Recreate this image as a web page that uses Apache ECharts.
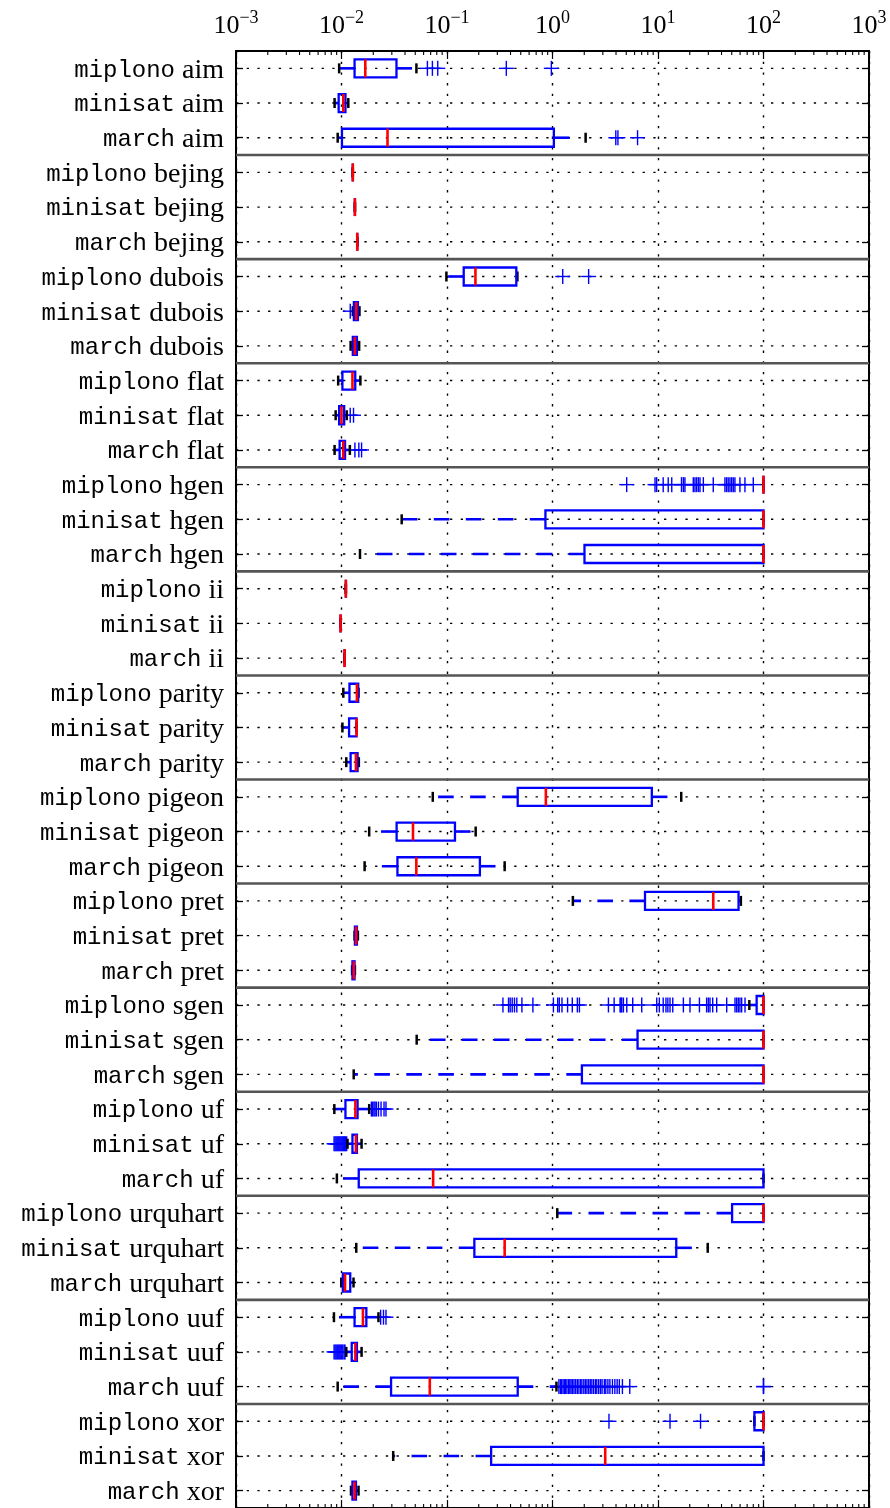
<!DOCTYPE html>
<html><head><meta charset="utf-8">
<script src="https://cdn.jsdelivr.net/npm/echarts@6/dist/echarts.min.js"></script>
<style>html,body{margin:0;padding:0;background:#fff}#c{width:890px;height:1508px}</style>
</head><body><div id="c"></div>
<script>
// ---------------- data ----------------
const solvers = ['miplono', 'minisat', 'march'];
const benchmarks = ['aim','bejing','dubois','flat','hgen','ii','parity','pigeon','pret','sgen','uf','urquhart','uuf','xor'];
const categories = [];
benchmarks.forEach(b => solvers.forEach(s => categories.push(s + ' ' + b)));

// per row: lower whisker, q1, median, q3, upper whisker (seconds)
const whiskerLow = [
  0.0095, 0.0086, 0.0092,   0.0128, 0.0134, 0.0141,   0.0987, 0.0128, 0.0122,
  0.0093, 0.0088, 0.0086,   100, 0.0372, 0.01497,     0.0110, 0.0098, 0.0107,
  0.0104, 0.0102, 0.0111,   0.0733, 0.0183, 0.01656,  1.56, 0.0133, 0.0126,
  73.4, 0.0516, 0.01305,    0.00855, 0.0114, 0.00904, 1.11, 0.0138, 0.00995,
  0.00848, 0.0111, 0.0092,  82, 0.0309, 0.0123
];
const q1 = [
  0.0133, 0.0094, 0.0101,   0.0128, 0.0134, 0.0141,   0.144, 0.0131, 0.0128,
  0.0102, 0.0095, 0.0096,   100, 0.857, 2.01,         0.0110, 0.0098, 0.0107,
  0.0119, 0.0118, 0.0122,   0.468, 0.0333, 0.0339,    7.53, 0.0134, 0.0127,
  86.1, 6.4, 1.90,          0.0109, 0.0127, 0.01457,  50.4, 0.1817, 0.0103,
  0.0133, 0.0125, 0.0295,   82, 0.262, 0.0127
];
const median = [
  0.0168, 0.0104, 0.0273,   0.0128, 0.0134, 0.0141,   0.186, 0.0138, 0.0134,
  0.0127, 0.0100, 0.0104,   100, 100, 100,            0.0110, 0.0098, 0.0107,
  0.0140, 0.0139, 0.0137,   0.865, 0.0476, 0.0512,    33.4, 0.01377, 0.01308,
  100, 100, 100,            0.01354, 0.0137, 0.0739,  100, 0.352, 0.0108,
  0.01597, 0.01354, 0.0687, 100, 3.16, 0.01329
];
const q3 = [
  0.0332, 0.0109, 1.03,     0.0128, 0.0134, 0.0141,   0.454, 0.0143, 0.0140,
  0.0135, 0.0106, 0.0108,   100, 100, 100,            0.0110, 0.0098, 0.0107,
  0.0144, 0.0139, 0.0142,   8.74, 0.119, 0.205,       58.0, 0.0140, 0.0133,
  100, 100, 100,            0.0142, 0.0140, 100,      100, 14.9, 0.0121,
  0.0172, 0.0140, 0.468,    100, 100, 0.0137
];
const whiskerHigh = [
  0.0513, 0.0116, 2.06,     0.0128, 0.0134, 0.0141,   0.465, 0.0148, 0.0147,
  0.0151, 0.0112, 0.0120,   100, 100, 100,            0.0110, 0.0098, 0.0107,
  0.0145, 0.0139, 0.0146,   16.6, 0.187, 0.352,       61.0, 0.0143, 0.0134,
  100, 100, 100,            0.0183, 0.0155, 100,      100, 29.6, 0.0130,
  0.0224, 0.0155, 1.09,     100, 100, 0.0145
];
// outliers per row
const outliers = [
  [0.0652, 0.0727, 0.0817, 0.365, 0.975], [], [3.98, 4.17, 6.4],
  [], [], [],
  [1.25, 2.2], [0.0121], [],
  [], [0.0121, 0.0130], [0.0134, 0.0146, 0.0155],
  [5.05, 9.37, 9.71, 11.2, 12.5, 13.5, 16.7, 17.4, 18.0, 21.6, 22.4, 23.2, 24.1, 25.0, 26.9, 33.4,
   43.1, 44.7, 46.3, 48.1, 49.9, 51.7, 53.6, 59.8, 66.7, 80.0], [], [],
  [], [], [],
  [], [], [],
  [], [], [],
  [], [], [],
  [0.339, 0.383, 0.397, 0.415, 0.436, 0.459, 0.513, 0.652, 1.02, 1.12, 1.16, 1.23, 1.39, 1.54, 1.72, 1.80,
   3.39, 3.84, 4.37, 4.45, 4.53, 4.70, 5.06, 5.76, 7.01, 9.73, 10.3, 11.2, 11.9, 12.4, 13.0, 13.8, 17.4, 20.1,
   24.7, 28.9, 30.0, 31.1, 33.0, 36.0, 44.8, 53.7, 55.7, 57.7, 59.8, 62.1, 66.8], [], [],
  [0.0192, 0.0197, 0.0203, 0.0208, 0.0214, 0.0224, 0.0237, 0.0253, 0.0264],
  [0.0085, 0.0087, 0.0089, 0.0091, 0.0093, 0.0095, 0.0097, 0.0099, 0.0101, 0.0103, 0.0105, 0.0107, 0.0109, 0.0112], [],
  [], [], [],
  [0.0235, 0.0250, 0.0264],
  [0.0085, 0.0087, 0.0089, 0.0091, 0.0093, 0.0095, 0.0097, 0.0099, 0.0101, 0.0103, 0.0106, 0.0108],
  [1.15, 1.19, 1.22, 1.26, 1.3, 1.33, 1.37, 1.42, 1.46, 1.5, 1.55, 1.6, 1.66, 1.72, 1.78, 1.85, 1.9, 1.98,
   2.05, 2.12, 2.2, 2.28, 2.36, 2.45, 2.55, 2.63, 2.74, 2.85, 2.95, 3.1, 3.2, 3.35, 3.5, 3.7, 3.9, 4.1,
   4.3, 4.6, 5.4, 100, 100],
  [3.43, 13.0, 25.3], [], []
];
const groupStartRows = [3, 6, 9, 12, 15, 18, 21, 24, 27, 30, 33, 36, 39];
const tickExponents = ['−3', '−2', '−1', '0', '1', '2', '3'];
const minorTickValues = [];
[0.001, 0.01, 0.1, 1, 10, 100].forEach(d => { for (let k = 2; k <= 9; k++) minorTickValues.push(+(d * k).toPrecision(3)); });

// ---------------- chart ----------------
const BLUE = '#0000ff', RED = '#ff0000';
const chart = echarts.init(document.getElementById('c'), null, { renderer: 'canvas' });

const boxData = categories.map((c, i) => [i, whiskerLow[i], q1[i], median[i], q3[i], whiskerHigh[i]]);
const outlierData = [];
outliers.forEach((arr, i) => arr.forEach(v => outlierData.push([v, i])));

function bandH(params) { return params.coordSys.height / categories.length; }

const option = {
  animation: false,
  backgroundColor: '#fff',
  grid: { left: 236, top: 51, width: 633, height: 1458.6, containLabel: false },
  xAxis: [
    {
      type: 'log', logBase: 10, min: 0.001, max: 1000, splitNumber: 6, position: 'top',
      axisLine: { show: true, onZero: false, lineStyle: { color: '#000', width: 2 } },
      axisTick: { show: true, inside: true, length: 8, lineStyle: { color: '#000', width: 1.2 } },
      minorTick: { show: false },
      splitLine: { show: true, lineStyle: { color: '#000', width: 1.4, type: [2.3, 8.4] } },
      axisLabel: {
        margin: 12,
        formatter: v => '{b|10}{s|' + tickExponents[Math.round(Math.log10(v)) + 3] + '}',
        rich: {
          b: { fontFamily: 'Liberation Serif', fontSize: 26, color: '#000', lineHeight: 30, verticalAlign: 'bottom' },
          s: { fontFamily: 'Liberation Serif', fontSize: 18, color: '#000', lineHeight: 18, verticalAlign: 'top' }
        }
      }
    },
    {
      type: 'log', logBase: 10, min: 0.001, max: 1000, splitNumber: 6, position: 'bottom',
      axisLine: { show: true, onZero: false, lineStyle: { color: '#000', width: 2 } },
      axisTick: { show: true, inside: true, length: 8, lineStyle: { color: '#000', width: 1.2 } },
      axisLabel: { show: false }, splitLine: { show: false }
    }
  ],
  yAxis: [
    {
      type: 'category', data: categories, inverse: true, position: 'left',
      axisLine: { show: true, onZero: false, lineStyle: { color: '#000', width: 2 } },
      axisTick: { show: true, inside: true, alignWithLabel: true, interval: 0, length: 7, lineStyle: { color: '#000', width: 1.3 } },
      splitLine: { show: false },
      axisLabel: {
        interval: 0, margin: 12,
        formatter: v => { const p = v.split(' '); return '{m|' + p[0] + '}{s| ' + p[1] + '}'; },
        rich: {
          m: { fontFamily: 'Liberation Mono', fontSize: 24, color: '#000', padding: [4, 0, 0, 0] },
          s: { fontFamily: 'Liberation Serif', fontSize: 28, color: '#000', padding: [4, 0, 0, 0] }
        }
      }
    },
    {
      type: 'category', data: categories, inverse: true, position: 'right',
      axisLine: { show: true, onZero: false, lineStyle: { color: '#000', width: 2 } },
      axisTick: { show: true, inside: true, alignWithLabel: true, interval: 0, length: 7, lineStyle: { color: '#000', width: 1.3 } },
      axisLabel: { show: false }, splitLine: { show: false }
    }
  ],
  series: [
    { // dotted row grid lines
      type: 'custom', xAxisIndex: 0, yAxisIndex: 0, silent: true, z: 1,
      data: categories.map((c, i) => [1, i]), encode: { x: 0, y: 1 },
      renderItem: (params, api) => {
        const cs = params.coordSys; const y = api.coord([1, api.value(1)])[1];
        return { type: 'line', shape: { x1: cs.x, y1: y, x2: cs.x + cs.width, y2: y },
          style: { stroke: '#000', lineWidth: 1.4, lineDash: [2.3, 8.4] } };
      }
    },
    { // group separators
      type: 'custom', xAxisIndex: 0, yAxisIndex: 0, silent: true, z: 2,
      data: groupStartRows.map(r => [1, r]), encode: { x: 0, y: 1 },
      renderItem: (params, api) => {
        const cs = params.coordSys; const y = api.coord([1, api.value(1)])[1] - bandH(params) / 2;
        return { type: 'line', shape: { x1: cs.x, y1: y, x2: cs.x + cs.width, y2: y },
          style: { stroke: '#555', lineWidth: 2.6 } };
      }
    },
    { // minor log ticks top and bottom
      type: 'custom', xAxisIndex: 0, yAxisIndex: 0, silent: true, z: 3,
      data: minorTickValues.map(v => [v, 0]), encode: { x: 0, y: 1 },
      renderItem: (params, api) => {
        const cs = params.coordSys; const x = api.coord([api.value(0), 0])[0];
        return { type: 'group', children: [
          { type: 'line', shape: { x1: x, y1: cs.y, x2: x, y2: cs.y + 4 }, style: { stroke: '#000', lineWidth: 1.1 } },
          { type: 'line', shape: { x1: x, y1: cs.y + cs.height, x2: x, y2: cs.y + cs.height - 4 }, style: { stroke: '#000', lineWidth: 1.1 } }
        ] };
      }
    },
    { // boxes
      type: 'custom', xAxisIndex: 0, yAxisIndex: 0, silent: true, z: 5,
      data: boxData, encode: { x: [1, 2, 3, 4, 5], y: 0 },
      renderItem: (params, api) => {
        const row = api.value(0);
        const px = v => api.coord([v, row])[0];
        const y = api.coord([1, row])[1];
        const wl = px(api.value(1)), a = px(api.value(2)), m = px(api.value(3)), b = px(api.value(4)), wh = px(api.value(5));
        const H = 18, C = 10;
        const ch = [];
        const dash = [15.6, 16.4];
        if (a - wl > 0.5) ch.push({ type: 'line', shape: { x1: a, y1: y, x2: wl, y2: y }, style: { stroke: BLUE, lineWidth: 2.6, lineDash: dash } });
        if (wh - b > 0.5) ch.push({ type: 'line', shape: { x1: b, y1: y, x2: wh, y2: y }, style: { stroke: BLUE, lineWidth: 2.6, lineDash: dash } });
        ch.push({ type: 'line', shape: { x1: wl, y1: y - C / 2, x2: wl, y2: y + C / 2 }, style: { stroke: '#000', lineWidth: 2.5 } });
        ch.push({ type: 'line', shape: { x1: wh, y1: y - C / 2, x2: wh, y2: y + C / 2 }, style: { stroke: '#000', lineWidth: 2.5 } });
        ch.push({ type: 'rect', shape: { x: a, y: y - H / 2, width: Math.max(b - a, 0), height: H }, style: { fill: 'none', stroke: BLUE, lineWidth: 2.3 } });
        ch.push({ type: 'line', shape: { x1: m, y1: y - H / 2, x2: m, y2: y + H / 2 }, style: { stroke: RED, lineWidth: 2.6 } });
        return { type: 'group', children: ch };
      }
    },
    { // outliers
      type: 'custom', xAxisIndex: 0, yAxisIndex: 0, silent: true, z: 4,
      data: outlierData, encode: { x: 0, y: 1 },
      renderItem: (params, api) => {
        const p = api.coord([api.value(0), api.value(1)]);
        const s = 7.5;
        return { type: 'group', children: [
          { type: 'line', shape: { x1: p[0] - s, y1: p[1], x2: p[0] + s, y2: p[1] }, style: { stroke: BLUE, lineWidth: 1.4 } },
          { type: 'line', shape: { x1: p[0], y1: p[1] - s, x2: p[0], y2: p[1] + s }, style: { stroke: BLUE, lineWidth: 1.4 } }
        ] };
      }
    }
  ]
};
chart.setOption(option);
</script>
</body></html>
